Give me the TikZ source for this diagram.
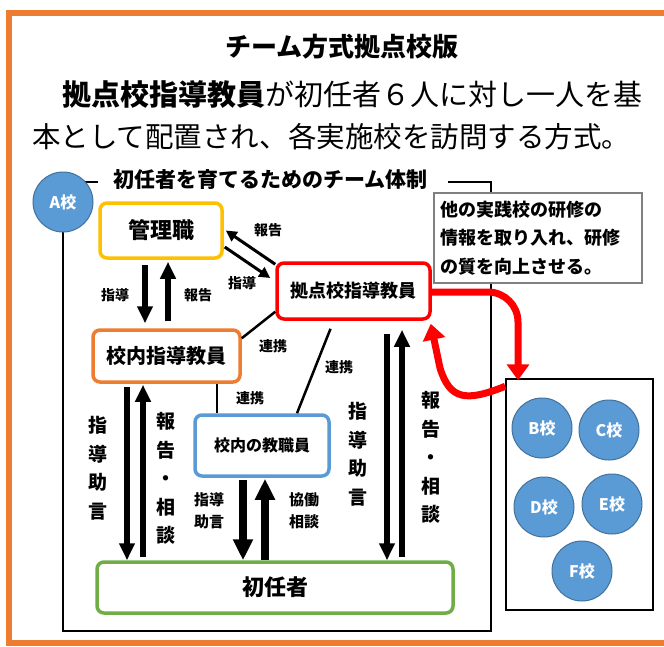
\documentclass[tikz,border=0pt]{standalone}
\usepackage{fontspec}
\newfontfamily\jp{Noto Sans CJK JP}
\usetikzlibrary{arrows.meta,calc}
\definecolor{cyel}{HTML}{FFC000}
\definecolor{corg}{HTML}{ED7D31}
\definecolor{cred}{HTML}{FF0000}
\definecolor{cblu}{HTML}{5B9BD5}
\definecolor{cbdr}{HTML}{41719C}
\definecolor{cgrn}{HTML}{70AD47}
\definecolor{cgry}{HTML}{808080}
\newcommand{\jpsz}[1]{\fontsize{#1}{#1}\selectfont}
\begin{document}
\begin{tikzpicture}[x=1pt,y=-1pt,
  box/.style={draw, line width=3.5pt, rounded corners=7pt, fill=white, font=\jp\bfseries, inner sep=0pt},
  school/.style={circle, draw=cbdr, line width=1pt, fill=cblu, text=white, font=\jp\bfseries\jpsz{16}, minimum size=60pt, inner sep=0pt},
  lbl/.style={font=\jp\bfseries\jpsz{14}, inner sep=0pt},
  vlbl/.style={font=\jp\bfseries\fontsize{19}{28.5}\selectfont, align=center, inner sep=0pt},
  fat/.style={line width=6pt, -{Triangle[width=15pt,length=17pt]}},
  fatter/.style={line width=8.5pt, -{Triangle[width=19pt,length=21pt]}},
  diagarrow/.style={line width=3pt, -{Triangle[width=11pt,length=11pt]}},
  redarrow/.style={draw=cred, line width=7pt, -{Triangle[width=22pt,length=16pt]}},
  link/.style={line width=2.5pt}]
\useasboundingbox (0,0) rectangle (664,646);
\fill[white] (0,0) rectangle (664,646);
% orange frame
\draw[corg, line width=6pt] (670,13) -- (9,13) -- (9,643) -- (670,643);
% heading texts
\node[font=\jp\bfseries\jpsz{26}, inner sep=0pt] (title) at (342,47) {チーム方式拠点校版};
\node[font=\jp\jpsz{29}, inner sep=0pt, anchor=west] (line2) at (62,95) {{\bfseries 拠点校指導教員}が初任者６人に対し一人を基};
\node[font=\jp\jpsz{28.5}, inner sep=0pt, anchor=west] (line3) at (32,137) {本として配置され、各実施校を訪問する方式。};
% system frame
\draw[line width=1.8pt] (98,182) -- (63,182) -- (63,631) -- (491,631) -- (491,182) -- (448,182);
\node[font=\jp\bfseries\jpsz{21}, inner sep=0pt] (ftitle) at (270.5,180) {初任者を育てるためのチーム体制};
% boxes
\node[box, draw=cyel, minimum width=122pt, minimum height=55pt, font=\jp\bfseries\jpsz{22}] (kanri) at (161,230.5) {管理職};
\node[box, draw=corg, minimum width=147pt, minimum height=52pt, font=\jp\bfseries\jpsz{20}] (konai) at (166.5,356) {校内指導教員};
\node[box, draw=cred, minimum width=153pt, minimum height=56pt, font=\jp\bfseries\jpsz{18}] (kyoten) at (353.5,291) {拠点校指導教員};
\node[box, draw=cblu, minimum width=134pt, minimum height=61pt, font=\jp\bfseries\jpsz{16}] (kyoshoku) at (262,445.5) {校内の教職員};
\node[box, draw=cgrn, minimum width=356pt, minimum height=51pt, font=\jp\bfseries\jpsz{22}] (shonin) at (275,587.5) {初任者};
% note
\node[draw=cgry, line width=1.2pt, fill=white, minimum height=90pt, text width=196pt, inner xsep=6pt, align=left,
      font=\jp\bfseries\fontsize{18}{28.5}\selectfont] (note) at (538,238) {他の実践校の研修の\\情報を取り入れ、研修\\の質を向上させる。};
% schools box
\node[draw, line width=1.5pt, fill=white, minimum width=147pt, minimum height=231pt] (bf) at (579.5,494.5) {};
\node[school] (A) at (63,202) {A校};
\node[school] (B) at (542,428) {B校};
\node[school] (C) at (609,430) {C校};
\node[school] (D) at (544,507) {D校};
\node[school] (E) at (612,504) {E校};
\node[school] (F) at (582,571) {F校};
% kanri <-> konai
\coordinate (k1) at ([xshift=-16pt,yshift=-5pt]kanri.south);
\coordinate (k2) at ([xshift=7pt,yshift=-2pt]kanri.south);
\draw[fat] (k1) -- ([yshift=5pt]k1 |- konai.north);
\draw[fat] ([yshift=7pt]k2 |- konai.north) -- (k2);
\node[lbl] (l1) at (115,295) {指導};
\node[lbl] (l2) at (198,295) {報告};
% kanri <-> kyoten diagonal
\draw[diagarrow] ([yshift=-3pt]kyoten.north west) -- ([xshift=2pt]kanri.east);
\draw[diagarrow] ([xshift=1pt,yshift=-16.5pt]kanri.east) -- ([shift={(-5pt,13pt)}]kyoten.west);
\node[lbl] (l3) at (268,230) {報告};
\node[lbl] (l4) at (242,283) {指導};
% links
\draw[link] ([yshift=-10pt]konai.north east) -- ([yshift=9pt]kyoten.south west);
\draw[link] ([xshift=-23pt,yshift=-8pt]kyoten.south) -- ([xshift=35pt]kyoshoku.north);
\coordinate (c3) at ([xshift=50.5pt]konai.south);
\draw[link] (c3) -- (c3 |- kyoshoku.north);
\node[lbl] (l5) at (273,346) {連携};
\node[lbl] (l6) at (339,367) {連携};
\node[lbl] (l7) at (250,398) {連携};
% konai <-> shonin
\coordinate (a1) at ([xshift=-39.5pt,yshift=-3pt]konai.south);
\coordinate (a2) at ([xshift=-23.5pt,yshift=-1pt]konai.south);
\draw[fat] (a1) -- (a1 |- shonin.north);
\draw[fat] ([yshift=3pt]a2 |- shonin.north) -- (a2);
\node[vlbl] (v1) at (98,468.5) {指\\導\\助\\言};
\node[vlbl] (v2) at (166,478.5) {報\\告\\・\\相\\談};
% kyoshoku <-> shonin
\coordinate (b1) at ([xshift=-19pt,yshift=-2pt]kyoshoku.south);
\coordinate (b2) at ([xshift=3pt,yshift=-1pt]kyoshoku.south);
\draw[fatter] (b1) -- (b1 |- shonin.north);
\draw[fatter] (b2 |- shonin.north) -- (b2);
\node[lbl, font=\jp\bfseries\fontsize{15}{22}\selectfont, align=center] (l8) at (209,511) {指導\\助言};
\node[lbl, font=\jp\bfseries\fontsize{15}{22}\selectfont, align=center] (l9) at (304,511) {協働\\相談};
% kyoten <-> shonin
\coordinate (d1) at ([xshift=33.5pt,yshift=-13pt]kyoten.south);
\coordinate (d2) at ([xshift=48.5pt,yshift=-9pt]kyoten.south);
\draw[fat] (d1) -- (d1 |- shonin.north);
\draw[fat] ([yshift=3pt]d2 |- shonin.north) -- (d2);
\node[vlbl] (v3) at (358,454.5) {指\\導\\助\\言};
\node[vlbl] (v4) at (431,457.5) {報\\告\\・\\相\\談};
% red arrows
\coordinate (r1) at ([yshift=-1pt]kyoten.east);
\coordinate (r2) at ([xshift=-61.5pt,yshift=-2pt]bf.north);
\draw[redarrow, rounded corners=30pt] (r1) -- (r1 -| r2) -- (r2);
\coordinate (r3) at ([yshift=-8pt]bf.north west);
\coordinate (r4) at ([shift={(-1pt,-3pt)}]kyoten.south east);
\draw[redarrow] (r3) .. controls (466,402) and (450,400) .. (440,368) -- (r4);
\end{tikzpicture}
\end{document}
